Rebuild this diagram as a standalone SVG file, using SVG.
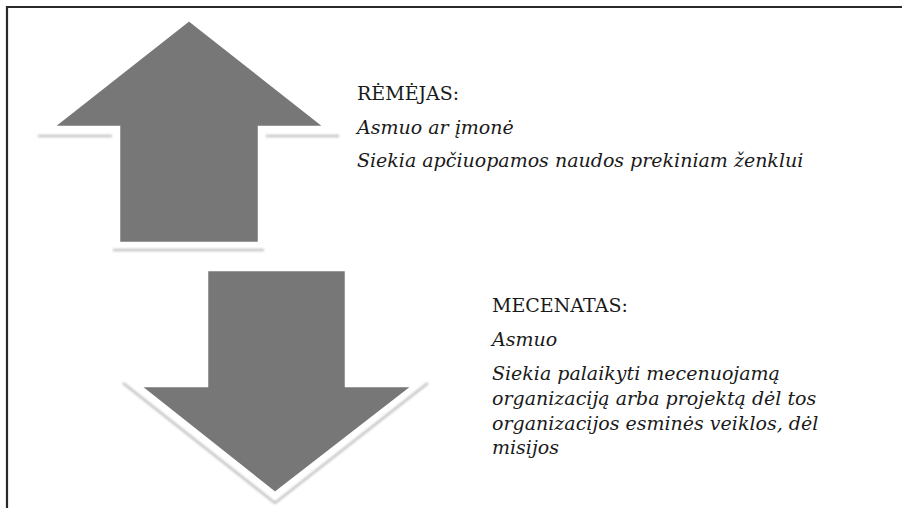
<svg xmlns="http://www.w3.org/2000/svg" width="902" height="508" viewBox="0 0 902 508">
<defs>
<style>
.arrow{fill:#777777;stroke:#ffffff;stroke-width:2.5;stroke-linejoin:miter}
.shadow{fill:none;stroke:#c4c4c4;stroke-width:2.5;stroke-linecap:butt}
.frame{stroke:#2a2a2a;stroke-width:2.2;fill:none}
.t{font-family:"DejaVu Serif","Liberation Serif",serif;font-size:19px;fill:#1a1a1a}
.i{font-style:italic}
</style>
<filter id="soft" x="-10%" y="-10%" width="120%" height="120%"><feGaussianBlur stdDeviation="0.8"/></filter>
</defs>
<rect width="902" height="508" fill="#ffffff"/>
<g id="frame">
<path class="frame" d="M7,508 V7 H902"/>
</g>
<g id="connectors">
<g id="arrow-up">
<g filter="url(#soft)">
<line class="shadow" x1="38" y1="136" x2="112" y2="136"/>
<line class="shadow" x1="266" y1="136" x2="339" y2="136"/>
<line class="shadow" x1="113" y1="250" x2="264" y2="250"/>
</g>
<polygon class="arrow" points="189,20 325,127 259,127 259,243 119,243 119,127 53,127"/>
</g>
<g id="arrow-down">
<polyline class="shadow" filter="url(#soft)" points="123,383 275,503 428,383"/>
<polygon class="arrow" points="207,270 346,270 346,386 413,386 275,493 140,386 207,386"/>
</g>
</g>
<g id="node-remejas">
<text class="t" x="357" y="100">RĖMĖJAS:</text>
<text class="t i" x="357" y="134">Asmuo ar įmonė</text>
<text class="t i" x="357" y="167">Siekia apčiuopamos naudos prekiniam ženklui</text>
</g>
<g id="node-mecenatas">
<text class="t" x="492" y="312">MECENATAS:</text>
<text class="t i" x="492" y="346">Asmuo</text>
<text class="t i" x="492" y="380">Siekia palaikyti mecenuojamą</text>
<text class="t i" x="492" y="405">organizaciją arba projektą dėl tos</text>
<text class="t i" x="492" y="430">organizacijos esminės veiklos, dėl</text>
<text class="t i" x="492" y="454">misijos</text>
</g>
</svg>
